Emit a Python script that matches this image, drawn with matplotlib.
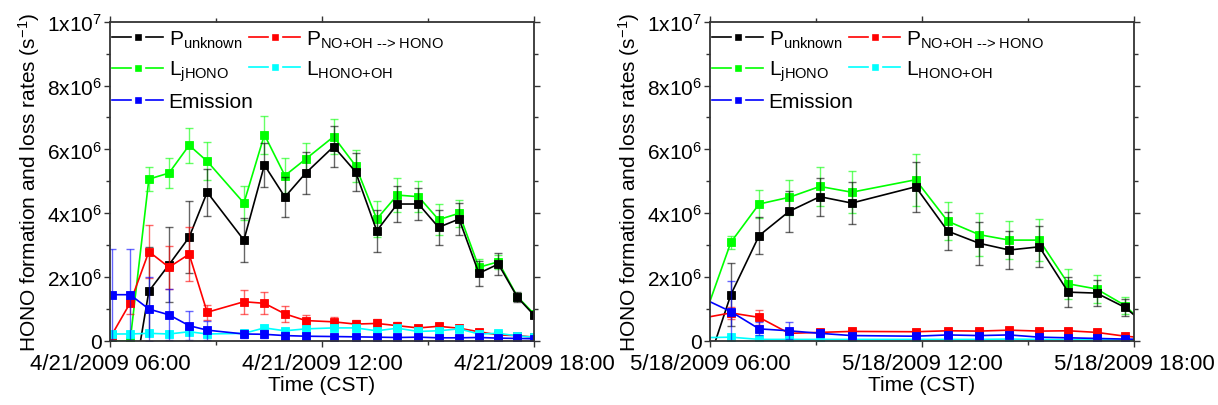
import matplotlib
matplotlib.use("Agg")
import matplotlib.pyplot as plt
from matplotlib.lines import Line2D
from matplotlib.ticker import MultipleLocator, FixedLocator

plt.rcParams['font.family'] = ['Liberation Sans', 'DejaVu Sans']
plt.rcParams['mathtext.fontset'] = 'custom'
plt.rcParams['mathtext.rm'] = 'Liberation Sans'
plt.rcParams['mathtext.it'] = 'Liberation Sans:italic'
plt.rcParams['mathtext.default'] = 'regular'

# ---------------- data (values in units of 1e6 s^-1, time in hours CST) -------------
t_left = [6.05, 6.57, 7.10, 7.67, 8.24, 8.75, 9.79, 10.37, 10.95, 11.54, 12.33,
          12.95, 13.55, 14.13, 14.73, 15.30, 15.88, 16.44, 16.99, 17.53, 18.0]
p_unknown_left = [-1.4, -1.93, 1.56, 2.39, 3.25, 4.66, 3.16, 5.51, 4.51, 5.26, 6.09,
                  5.30, 3.45, 4.29, 4.29, 3.56, 3.82, 2.12, 2.41, 1.37, 0.81]
p_unknown_left_err = [1.4, 1.4, 1.38, 1.18, 1.12, 0.74, 0.69, 0.70, 0.62, 0.65, 0.65,
                      0.60, 0.65, 0.57, 0.50, 0.55, 0.50, 0.40, 0.35, 0.15, 0.10]
l_jhono_left = [0.0, 0.0, 5.07, 5.26, 6.13, 5.63, 4.32, 6.46, 5.18, 5.70, 6.40,
                5.49, 3.82, 4.57, 4.52, 3.80, 4.00, 2.31, 2.48, 1.39, 0.85]
l_jhono_left_err = [0.0, 0.0, 0.37, 0.46, 0.54, 0.60, 0.54, 0.60, 0.54, 0.49, 0.55,
                    0.50, 0.55, 0.53, 0.48, 0.49, 0.42, 0.25, 0.22, 0.12, 0.08]
p_no_oh_left = [0.19, 1.19, 2.80, 2.31, 2.72, 0.90, 1.23, 1.18, 0.85, 0.64, 0.60,
                0.53, 0.55, 0.48, 0.41, 0.46, 0.40, 0.29, 0.19, 0.17, 0.12]
p_no_oh_left_err = [0.10, 0.35, 0.84, 0.67, 0.85, 0.23, 0.37, 0.34, 0.25, 0.17, 0.15,
                    0.13, 0.13, 0.12, 0.10, 0.10, 0.10, 0.08, 0.06, 0.05, 0.04]
l_hono_oh_left = [0.22, 0.22, 0.24, 0.22, 0.29, 0.22, 0.24, 0.41, 0.32, 0.38, 0.41,
                  0.41, 0.32, 0.40, 0.30, 0.32, 0.38, 0.22, 0.24, 0.16, 0.12]
l_hono_oh_left_err = [0.08] * 21
emission_left = [1.45, 1.45, 1.00, 0.82, 0.48, 0.34, 0.22, 0.21, 0.17, 0.15, 0.14,
                 0.13, 0.12, 0.11, 0.12, 0.10, 0.10, 0.11, 0.09, 0.08, 0.07]
emission_left_err = [1.43, 1.43, 1.00, 0.80, 0.45, 0.30, 0.12, 0.12, 0.10, 0.10, 0.08,
                     0.08, 0.08, 0.07, 0.07, 0.06, 0.06, 0.06, 0.05, 0.05, 0.04]

t_right = [5.6, 6.59, 7.39, 8.24, 9.11, 10.01, 11.82, 12.73, 13.62, 14.47, 15.32,
           16.14, 16.94, 17.75, 18.5]
p_unknown_right = [-1.84, 1.45, 3.30, 4.06, 4.52, 4.32, 4.83, 3.44, 3.06, 2.85, 2.95,
                   1.53, 1.50, 1.05, 0.35]
p_unknown_right_err = [0.0, 0.98, 0.57, 0.65, 0.60, 0.67, 0.78, 0.59, 0.68, 0.59, 0.64,
                       0.48, 0.41, 0.27, 0.10]
l_jhono_right = [0.0, 3.09, 4.29, 4.50, 4.84, 4.66, 5.05, 3.75, 3.33, 3.16, 3.16,
                 1.79, 1.63, 1.11, 0.30]
l_jhono_right_err = [0.0, 0.20, 0.44, 0.54, 0.62, 0.65, 0.81, 0.60, 0.67, 0.60, 0.66,
                     0.46, 0.44, 0.26, 0.08]
p_no_oh_right = [0.68, 0.88, 0.74, 0.24, 0.27, 0.30, 0.29, 0.32, 0.31, 0.34, 0.31,
                 0.32, 0.27, 0.15, 0.08]
p_no_oh_right_err = [0.10, 0.20, 0.23, 0.08, 0.08, 0.08, 0.08, 0.08, 0.08, 0.08, 0.08,
                     0.08, 0.07, 0.05, 0.03]
l_hono_oh_right = [0.10, 0.12, 0.05, 0.05, 0.05, 0.05, 0.05, 0.05, 0.05, 0.06, 0.05,
                   0.04, 0.04, 0.03, 0.02]
l_hono_oh_right_err = [0.05] * 15
emission_right = [1.44, 0.92, 0.38, 0.32, 0.24, 0.17, 0.15, 0.19, 0.17, 0.19, 0.12,
                  0.10, 0.08, 0.06, 0.05]
emission_right_err = [0.30, 0.95, 0.20, 0.26, 0.10, 0.08, 0.06, 0.06, 0.06, 0.06, 0.05,
                      0.04, 0.04, 0.03, 0.02]

xtick_pos = [6, 12, 18]
xtick_labels_left = ["4/21/2009 06:00", "4/21/2009 12:00", "4/21/2009 18:00"]
xtick_labels_right = ["5/18/2009 06:00", "5/18/2009 12:00", "5/18/2009 18:00"]
ytick_pos = [0, 2e6, 4e6, 6e6, 8e6, 1e7]
ytick_labels = ["0", "2x10$^{6}$", "4x10$^{6}$", "6x10$^{6}$", "8x10$^{6}$", "1x10$^{7}$"]

labels = {
    'punk': r"P$_{\text{unknown}}$",
    'pno': r"P$_{\text{NO+OH --> HONO}}$",
    'lj': r"L$_{\text{jHONO}}$",
    'loh': r"L$_{\text{HONO+OH}}$",
    'em': "Emission",
}
colors = {'punk': '#000000', 'pno': '#FF0000', 'lj': '#00FF00',
          'loh': '#00FFFF', 'em': '#0000FF'}

W, H = 1218, 406
fig = plt.figure(figsize=(W / 100, H / 100), dpi=100)

FS = 15


def make_panel(left_px, t, series, xlabels):
    ax = fig.add_axes([left_px / W, (H - 342) / H, 424 / W, 319.3 / H])
    for key, vals, errs in series:
        c = colors[key]
        v = [x * 1e6 for x in vals]
        e = [x * 1e6 for x in errs]
        ax.errorbar(t, v, yerr=e, fmt='none', ecolor=c, alpha=0.6,
                    elinewidth=1.0, capsize=3, capthick=1.0)
        ax.plot(t, v, '-', color=c, lw=1.2, marker='s', ms=5.5,
                mfc=c, mec=c, mew=0.6)
    ax.set_xlim(6, 18)
    ax.set_ylim(0, 1e7)
    ax.xaxis.set_major_locator(FixedLocator(xtick_pos))
    ax.set_xticklabels(xlabels, fontsize=16)
    ax.xaxis.set_minor_locator(FixedLocator([9, 15]))
    ax.yaxis.set_major_locator(FixedLocator(ytick_pos))
    ax.set_yticklabels(ytick_labels, fontsize=FS)
    ax.yaxis.set_minor_locator(MultipleLocator(1e6))
    ax.tick_params(which='both', direction='out', top=True, right=True,
                   color='#333333', width=1.0)
    ax.tick_params(which='major', length=4)
    ax.tick_params(which='minor', length=3)
    ax.tick_params(axis='x', pad=5)
    ax.tick_params(axis='y', pad=2)
    for s in ax.spines.values():
        s.set_color('#333333')
        s.set_linewidth(1.3)
    ax.set_ylabel("HONO formation and loss rates (s$^{-1}$)", fontsize=FS)
    ax.yaxis.set_label_coords(-0.16, 0.5)
    ax.set_xlabel("Time (CST)", fontsize=FS)
    ax.xaxis.set_label_coords(0.5, -0.105)

    def proxy(key):
        c = colors[key]
        return Line2D([], [], color=c, lw=1.2, marker='s', ms=7.5,
                      mfc=c, mec='white', mew=2.4)

    leg1 = ax.legend(handles=[proxy('punk'), proxy('lj'), proxy('pno'), proxy('loh')],
                     labels=[labels['punk'], labels['lj'], labels['pno'], labels['loh']],
                     ncol=2, loc='upper left', bbox_to_anchor=(0, 0.985),
                     borderaxespad=0, borderpad=0.1, frameon=False, fontsize=FS,
                     handlelength=2.45, handletextpad=0.27, columnspacing=0.32,
                     labelspacing=0.42)
    ax.add_artist(leg1)
    ax.legend(handles=[proxy('em')], labels=[labels['em']],
              loc='center left', bbox_to_anchor=(0, 1 - 0.25),
              borderaxespad=0, borderpad=0.1, frameon=False, fontsize=FS,
              handlelength=2.45, handletextpad=0.27)
    return ax


order = ['lj', 'punk', 'pno', 'loh', 'em']
left_data = {
    'punk': (p_unknown_left, p_unknown_left_err),
    'lj': (l_jhono_left, l_jhono_left_err),
    'pno': (p_no_oh_left, p_no_oh_left_err),
    'loh': (l_hono_oh_left, l_hono_oh_left_err),
    'em': (emission_left, emission_left_err),
}
right_data = {
    'punk': (p_unknown_right, p_unknown_right_err),
    'lj': (l_jhono_right, l_jhono_right_err),
    'pno': (p_no_oh_right, p_no_oh_right_err),
    'loh': (l_hono_oh_right, l_hono_oh_right_err),
    'em': (emission_right, emission_right_err),
}

make_panel(110, t_left, [(k, *left_data[k]) for k in order], xtick_labels_left)
make_panel(710, t_right, [(k, *right_data[k]) for k in order], xtick_labels_right)

fig.savefig("out.png", dpi=100)
